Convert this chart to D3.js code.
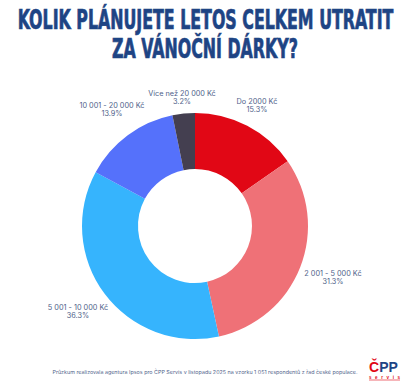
<!DOCTYPE html>
<html>
<head>
<meta charset="utf-8">
<script src="https://cdn.jsdelivr.net/npm/d3@7"></script>
<style>
  body { margin: 0; background: #fff; }
  svg { display: block; }
</style>
</head>
<body>
<svg width="411" height="387"></svg>
<script>
const categories = ["Do 2000 Kč", "2 001 - 5 000 Kč", "5 001 - 10 000 Kč", "10 001 - 20 000 Kč", "Více než 20 000 Kč"];
const values = [15.3, 31.3, 36.3, 13.9, 3.2];
const colors = ["#e10715", "#ef7177", "#36b4fd", "#5571fb", "#443f50"];
// label anchor positions (centre of text block)
const labelPos = [[257, 104], [333, 276], [78, 310], [112, 108], [182, 96]];

const svg = d3.select("svg");
const cx = 195, cy = 226;
const outerR = 113, innerR = 57;

// title, squeezed to the width it has in the reference
const titleLines = [
  { text: "KOLIK PLÁNUJETE LETOS CELKEM UTRATIT", x: 205.5, y: 29, w: 376 },
  { text: "ZA VÁNOČNÍ DÁRKY?", x: 205, y: 58, w: 186 }
];
titleLines.forEach(l => {
  const t = svg.append("text")
    .attr("font-family", "'Liberation Sans Narrow', 'DejaVu Sans Condensed', sans-serif")
    .attr("font-weight", "bold")
    .attr("font-size", "26px")
    .attr("fill", "#1e4484")
    .attr("stroke", "#1e4484")
    .attr("stroke-width", 0.7)
    .attr("text-anchor", "middle")
    .text(l.text);
  const natural = t.node().getComputedTextLength();
  t.attr("transform", `translate(${l.x},${l.y}) scale(${l.w / natural},1)`);
});

// donut
const pie = d3.pie().sort(null).value(d => d);
const arc = d3.arc().innerRadius(innerR).outerRadius(outerR);

svg.append("g")
  .attr("transform", `translate(${cx},${cy})`)
  .selectAll("path")
  .data(pie(values))
  .join("path")
  .attr("d", arc)
  .attr("fill", (d, i) => colors[i]);

// labels
const labels = svg.append("g")
  .attr("font-family", "Inter, 'Noto Sans', sans-serif")
  .attr("font-size", "7.3px")
  .attr("fill", "#4f5f8a")
  .attr("text-anchor", "middle");

categories.forEach((c, i) => {
  const [x, y] = labelPos[i];
  labels.append("text").attr("x", x).attr("y", y).text(c);
  labels.append("text").attr("x", x).attr("y", y + 8).text(values[i].toFixed(1) + "%");
});

// footer
svg.append("text")
  .attr("x", 205).attr("y", 374)
  .attr("text-anchor", "middle")
  .attr("font-family", "Inter, 'Noto Sans', sans-serif")
  .attr("font-size", "4.6px")
  .attr("fill", "#4f5f8a")
  .attr("textLength", 305).attr("lengthAdjust", "spacingAndGlyphs")
  .text("Průzkum realizovala agentura Ipsos pro ČPP Servis v listopadu 2025 na vzorku 1 051 respondentů z řad české populace.");

// logo
const logo = svg.append("g")
  .attr("font-family", "'Liberation Sans', Arial, sans-serif")
  .attr("font-weight", "bold");
const lt = logo.append("text").attr("x", 369).attr("y", 372).attr("font-size", "14px");
lt.append("tspan").attr("fill", "#e10715").text("Č");
lt.append("tspan").attr("fill", "#1e4484").text("PP");
logo.append("text")
  .attr("x", 369).attr("y", 378.5)
  .attr("font-size", "4.5px")
  .attr("fill", "#e10715")
  .attr("textLength", 31).attr("lengthAdjust", "spacing")
  .text("servis");
logo.append("line")
  .attr("x1", 369).attr("x2", 400).attr("y1", 380).attr("y2", 380)
  .attr("stroke", "#e10715").attr("stroke-width", 0.6);
</script>
</body>
</html>
